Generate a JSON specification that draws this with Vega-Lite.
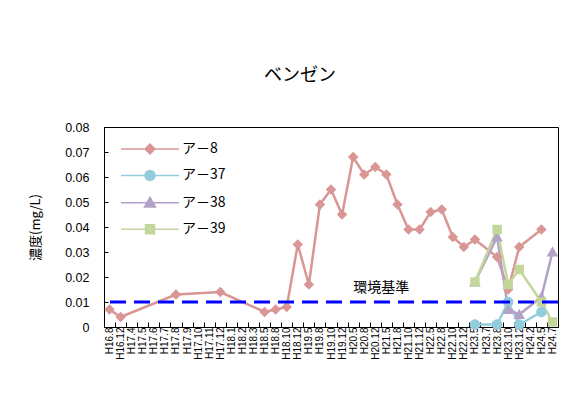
{
  "$schema": "https://vega.github.io/schema/vega-lite/v6.json",
  "width": 454,
  "height": 200,
  "autosize": {"type": "none"},
  "padding": {"left": 104, "top": 127, "right": 16, "bottom": 79},
  "background": "white",
  "title": {
    "text": "ベンゼン",
    "font": "Noto Sans CJK JP",
    "fontSize": 18,
    "fontWeight": "normal",
    "color": "black",
    "anchor": "middle",
    "offset": 36,
    "dx": -31
  },
  "config": {
    "view": {"stroke": "black", "strokeWidth": 1},
    "axis": {"grid": false, "domainColor": "black", "tickColor": "black", "labelColor": "black", "titleColor": "black"}
  },
  "data": {
    "values": [
      {"d": "H16.8", "s": "ア－8", "v": 0.007},
      {"d": "H16.12", "s": "ア－8", "v": 0.004},
      {"d": "H17.8", "s": "ア－8", "v": 0.013},
      {"d": "H17.12", "s": "ア－8", "v": 0.014},
      {"d": "H18.5", "s": "ア－8", "v": 0.006},
      {"d": "H18.8", "s": "ア－8", "v": 0.007},
      {"d": "H18.10", "s": "ア－8", "v": 0.008},
      {"d": "H18.12", "s": "ア－8", "v": 0.033},
      {"d": "H19.5", "s": "ア－8", "v": 0.017},
      {"d": "H19.8", "s": "ア－8", "v": 0.049},
      {"d": "H19.10", "s": "ア－8", "v": 0.055},
      {"d": "H19.12", "s": "ア－8", "v": 0.045},
      {"d": "H20.5", "s": "ア－8", "v": 0.068},
      {"d": "H20.8", "s": "ア－8", "v": 0.061},
      {"d": "H20.12", "s": "ア－8", "v": 0.064},
      {"d": "H21.5", "s": "ア－8", "v": 0.061},
      {"d": "H21.8", "s": "ア－8", "v": 0.049},
      {"d": "H21.10", "s": "ア－8", "v": 0.039},
      {"d": "H21.12", "s": "ア－8", "v": 0.039},
      {"d": "H22.5", "s": "ア－8", "v": 0.046},
      {"d": "H22.8", "s": "ア－8", "v": 0.047},
      {"d": "H22.10", "s": "ア－8", "v": 0.036},
      {"d": "H22.12", "s": "ア－8", "v": 0.032},
      {"d": "H23.5", "s": "ア－8", "v": 0.035},
      {"d": "H23.8", "s": "ア－8", "v": 0.028},
      {"d": "H23.10", "s": "ア－8", "v": 0.015},
      {"d": "H23.12", "s": "ア－8", "v": 0.032},
      {"d": "H24.5", "s": "ア－8", "v": 0.039},
      {"d": "H23.5", "s": "ア－37", "v": 0.001},
      {"d": "H23.8", "s": "ア－37", "v": 0.001},
      {"d": "H23.10", "s": "ア－37", "v": 0.010},
      {"d": "H23.12", "s": "ア－37", "v": 0.001},
      {"d": "H24.5", "s": "ア－37", "v": 0.006},
      {"d": "H23.5", "s": "ア－38", "v": 0.018},
      {"d": "H23.8", "s": "ア－38", "v": 0.036},
      {"d": "H23.10", "s": "ア－38", "v": 0.007},
      {"d": "H23.12", "s": "ア－38", "v": 0.005},
      {"d": "H24.5", "s": "ア－38", "v": 0.012},
      {"d": "H24.7", "s": "ア－38", "v": 0.030},
      {"d": "H23.5", "s": "ア－39", "v": 0.018},
      {"d": "H23.8", "s": "ア－39", "v": 0.039},
      {"d": "H23.10", "s": "ア－39", "v": 0.017},
      {"d": "H23.12", "s": "ア－39", "v": 0.023},
      {"d": "H24.5", "s": "ア－39", "v": 0.010},
      {"d": "H24.7", "s": "ア－39", "v": 0.002}
    ]
  },
  "encoding": {
    "y": {
      "field": "v",
      "type": "quantitative",
      "title": "濃度(mg/L)",
      "scale": {"domain": [0, 0.08], "nice": false},
      "axis": {
        "values": [0, 0.01, 0.02, 0.03, 0.04, 0.05, 0.06, 0.07, 0.08],
        "format": ".2~f",
        "labelOverlap": false,
        "labelFont": "Liberation Sans",
        "labelFontSize": 12.5,
        "labelPadding": 19,
        "tickSize": -4,
        "titleFont": "Noto Sans CJK JP",
        "titleFontSize": 13,
        "titleFontWeight": "normal",
        "titlePadding": 22
      }
    }
  },
  "layer": [
    {
      "mark": {"type": "line", "strokeWidth": 2.5},
      "encoding": {
        "x": {
          "field": "d",
          "type": "ordinal",
          "title": null,
          "scale": {
            "type": "band",
            "paddingInner": 0,
            "paddingOuter": 0,
            "domain": ["H16.8","H16.12","H17.4","H17.5","H17.6","H17.7","H17.8","H17.9","H17.10","H17.11","H17.12","H18.1","H18.2","H18.3","H18.5","H18.8","H18.10","H18.12","H19.5","H19.8","H19.10","H19.12","H20.5","H20.8","H20.12","H21.5","H21.8","H21.10","H21.12","H22.5","H22.8","H22.10","H22.12","H23.5","H23.7","H23.8","H23.10","H23.12","H24.2","H24.5","H24.7"]
          },
          "axis": {
            "labelAngle": -90,
            "labelFont": "Liberation Sans",
            "labelFontSize": 10,
            "labelPadding": 5,
            "tickBand": "extent",
            "tickSize": -5,
            "labelOverlap": false
          }
        },
        "color": {
          "field": "s",
          "type": "nominal",
          "scale": {
            "domain": ["ア－8", "ア－37", "ア－38", "ア－39"],
            "range": ["#d99694", "#93cddd", "#b3a2c7", "#c3d69b"]
          }
        },
        "order": {"value": null}
      }
    },
    {
      "mark": {"type": "point", "filled": true, "opacity": 1, "size": 110},
      "encoding": {
        "x": {"field": "d", "type": "ordinal"},
        "color": {"field": "s", "type": "nominal"},
        "shape": {
          "field": "s",
          "type": "nominal",
          "scale": {
            "domain": ["ア－8", "ア－37", "ア－38", "ア－39"],
            "range": [
              "M-5.8,0H5.8M0,-1L1,0L0,1L-1,0Z",
              "M-5.8,0H5.8M1,0A1,1,0,1,1,-1,0A1,1,0,1,1,1,0Z",
              "M-5.8,0H5.8M0,-1.1L1.1,0.85L-1.1,0.85Z",
              "M-5.8,0H5.8M-0.9,-0.9H0.9V0.9H-0.9Z"
            ]
          },
          "legend": {
            "title": null,
            "orient": "none",
            "legendX": 39,
            "legendY": 15,
            "padding": 0,
            "symbolOffset": 0,
            "labelOffset": 25,
            "rowPadding": 10.4,
            "labelFont": "Noto Sans CJK JP",
            "labelFontSize": 14,
            "labelColor": "black",
            "encode": {
              "symbols": {
                "update": {
                  "stroke": {"scale": "color", "field": "value"},
                  "strokeWidth": {"value": 2.5},
                  "size": {"value": 64},
                  "opacity": {"value": 1}
                }
              }
            }
          }
        }
      }
    },
    {
      "data": {"values": [{"label": "環境基準", "v": 0.01}]},
      "mark": {"type": "rule", "color": "#0000ff", "strokeWidth": 3, "strokeDash": [16, 8]},
      "encoding": {}
    },
    {
      "data": {"values": [{"label": "環境基準", "v": 0.01}]},
      "mark": {"type": "text", "font": "Noto Sans CJK JP", "fontSize": 14, "color": "black", "dx": 6, "dy": -14},
      "encoding": {"x": {"datum": "H20.12"}, "text": {"field": "label"}}
    }
  ]
}
